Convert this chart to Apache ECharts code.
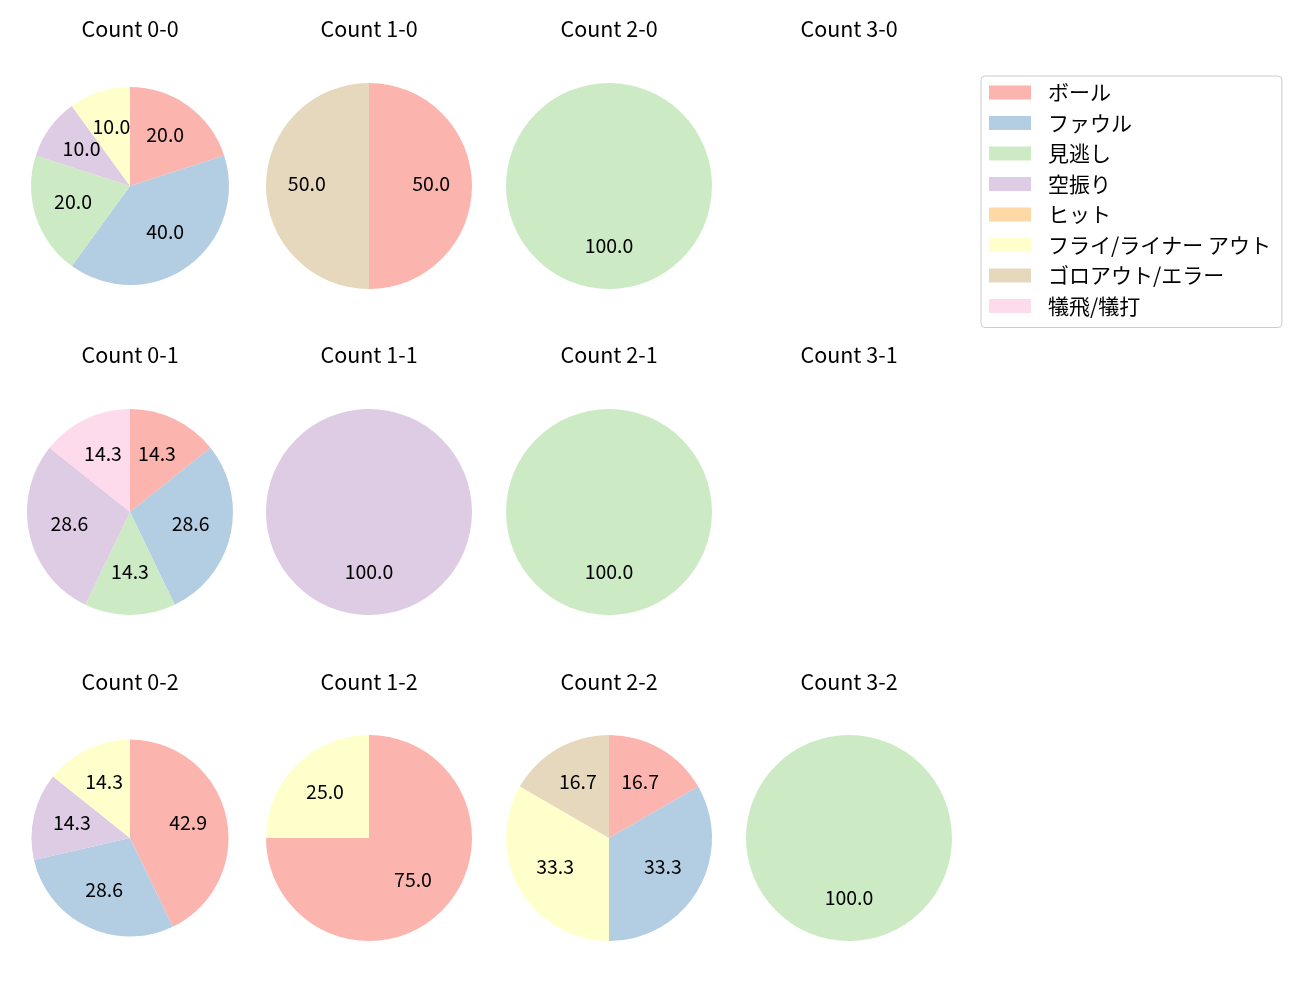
<!DOCTYPE html>
<html>
<head>
<meta charset="utf-8">
<title>Count pies</title>
<script src="https://cdn.jsdelivr.net/npm/echarts@6/dist/echarts.min.js"></script>
<style>
  html, body { margin: 0; padding: 0; background: #fff; }
  #chart { width: 1300px; height: 1000px; }
</style>
</head>
<body>
<div id="chart"></div>
<script>
// 結果の種類
const categories = ['ボール', 'ファウル', '見逃し', '空振り', 'ヒット', 'フライ/ライナー アウト', 'ゴロアウト/エラー', '犠飛/犠打'];

// カウントごとの件数 (categoriesの順)
const count00 = [2, 4, 2, 1, 0, 1, 0, 0];
const count10 = [1, 0, 0, 0, 0, 0, 1, 0];
const count20 = [0, 0, 1, 0, 0, 0, 0, 0];
const count30 = null;
const count01 = [1, 2, 1, 2, 0, 0, 0, 1];
const count11 = [0, 0, 0, 1, 0, 0, 0, 0];
const count21 = [0, 0, 1, 0, 0, 0, 0, 0];
const count31 = null;
const count02 = [3, 2, 0, 1, 0, 1, 0, 0];
const count12 = [3, 0, 0, 0, 0, 1, 0, 0];
const count22 = [1, 2, 0, 0, 0, 2, 1, 0];
const count32 = [0, 0, 1, 0, 0, 0, 0, 0];

// Pastel1
const colors = ['#fbb4ae', '#b3cde3', '#ccebc5', '#decbe4', '#fed9a6', '#ffffcc', '#e5d8bd', '#fddaec'];
const font = '"Noto Sans CJK JP", "Noto Sans", sans-serif';

// レイアウト
const colX = [130, 369, 609, 849];
const rowY = [186, 512, 838];
const titleY = [18, 344, 671];
const pies = [
  { title: 'Count 0-0', values: count00, col: 0, row: 0, r: 99 },
  { title: 'Count 1-0', values: count10, col: 1, row: 0, r: 103 },
  { title: 'Count 2-0', values: count20, col: 2, row: 0, r: 103 },
  { title: 'Count 3-0', values: count30, col: 3, row: 0, r: 103 },
  { title: 'Count 0-1', values: count01, col: 0, row: 1, r: 103 },
  { title: 'Count 1-1', values: count11, col: 1, row: 1, r: 103 },
  { title: 'Count 2-1', values: count21, col: 2, row: 1, r: 103 },
  { title: 'Count 3-1', values: count31, col: 3, row: 1, r: 103 },
  { title: 'Count 0-2', values: count02, col: 0, row: 2, r: 98.5 },
  { title: 'Count 1-2', values: count12, col: 1, row: 2, r: 103 },
  { title: 'Count 2-2', values: count22, col: 2, row: 2, r: 103 },
  { title: 'Count 3-2', values: count32, col: 3, row: 2, r: 103 }
];

const chart = echarts.init(document.getElementById('chart'));

const titles = pies.map(p => ({
  text: p.title,
  left: colX[p.col],
  top: titleY[p.row],
  textAlign: 'center',
  padding: 0,
  textStyle: { fontSize: 21.5, fontWeight: 'normal', color: '#000', fontFamily: font }
}));

const series = [];
pies.forEach(p => {
  if (!p.values) return;
  const total = p.values.reduce((a, b) => a + b, 0);
  const data = categories.map((name, i) => ({
    name: name,
    value: p.values[i],
    itemStyle: { color: colors[i] }
  }));
  const center = [colX[p.col], rowY[p.row]];
  // 扇形本体
  series.push({
    type: 'pie',
    center: center,
    radius: [0, p.r],
    startAngle: 90,
    clockwise: true,
    animation: false,
    itemStyle: { borderWidth: 0 },
    label: { show: false },
    labelLine: { show: false },
    emphasis: { disabled: true },
    data: data
  });
  // ラベル用 (透明なリング、中心寄りに配置。フォントの縦ずれ分だけ上げる)
  series.push({
    type: 'pie',
    center: [center[0], center[1] - 2.5],
    radius: [p.r * 0.15, p.r],
    startAngle: 90,
    clockwise: true,
    animation: false,
    silent: true,
    legendHoverLink: false,
    itemStyle: { color: 'rgba(0,0,0,0)', borderWidth: 0 },
    label: {
      show: true,
      position: 'inside',
      color: '#000',
      fontSize: 19.5,
      fontFamily: font,
      formatter: function(param) {
        return param.value ? (param.value / total * 100).toFixed(1) : '';
      }
    },
    labelLine: { show: false },
    emphasis: { disabled: true },
    data: categories.map((name, i) => ({ name: name, value: p.values[i] }))
  });
});

chart.setOption({
  backgroundColor: '#fff',
  title: titles,
  legend: {
    orient: 'vertical',
    left: 981,
    top: 76,
    data: categories,
    icon: 'rect',
    itemWidth: 42,
    itemHeight: 14,
    itemGap: 9.5,
    padding: [6, 11, 11, 8],
    borderColor: '#cccccc',
    borderWidth: 1,
    borderRadius: 4,
    selectedMode: false,
    textStyle: { fontSize: 21, color: '#000', fontFamily: font, padding: [0, 0, 0, 12] }
  },
  series: series
});
</script>
</body>
</html>
